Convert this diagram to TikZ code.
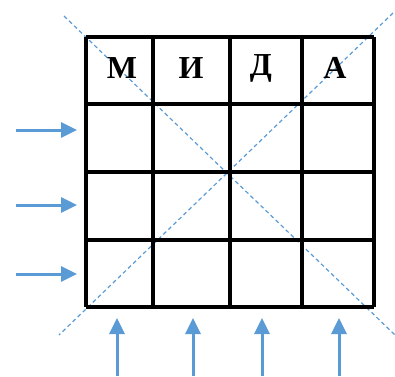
\documentclass[tikz,border=0pt]{standalone}
\usepackage{fontspec}
\setmainfont{Liberation Serif}
\usepackage{xcolor}
\usetikzlibrary{arrows.meta,positioning}
\definecolor{arrowblue}{HTML}{5B9BD5}

\begin{document}
\begin{tikzpicture}[x=1pt,y=-1pt,
		gridline/.style={line width=3.2pt,black},
		diag/.style={arrowblue,line width=1.2pt,dash pattern=on 4pt off 3pt},
		feed/.style={-{Triangle[length=16pt,width=15pt]},arrowblue,line width=3pt},
		letter/.style={font=\fontsize{32}{34}\selectfont\bfseries,inner sep=0pt}]
		\useasboundingbox (0,0) rectangle (395,376);
		% diagonals
		\coordinate (d1a) at (64,16);
		\coordinate (d1b) at (395,335);
		\coordinate (d2a) at (393,13);
		\coordinate (d2b) at (59,335);
		\draw[diag] (d1a) -- (d1b);
		\draw[diag] (d2a) -- (d2b);
		% grid
		\foreach \x in {86,153,230,302,374}
			\draw[gridline] (\x,37) -- (\x,307);
		\foreach \y in {37,104,172,240,307}
			\draw[gridline] (86,\y) -- (374,\y);
		% letters
		\node[letter] (m) at (122,68) {М};
		\node[letter] (i) at (191,68) {И};
		\node[letter] (d) at (261,68) {Д};
		\node[letter] (a) at (335,68) {А};
		% arrows
		\foreach \y [count=\k] in {130,205,274}{
			\coordinate (l\k) at (16,\y);
			\coordinate (r\k) at (77,\y);
			\draw[feed] (l\k) -- (r\k);
		}
		\foreach \x [count=\k] in {117,193,262,339}{
			\coordinate (b\k) at (\x,376);
			\coordinate (t\k) at (\x,318);
			\draw[feed] (b\k) -- (t\k);
		}
	\end{tikzpicture}
\end{document}
